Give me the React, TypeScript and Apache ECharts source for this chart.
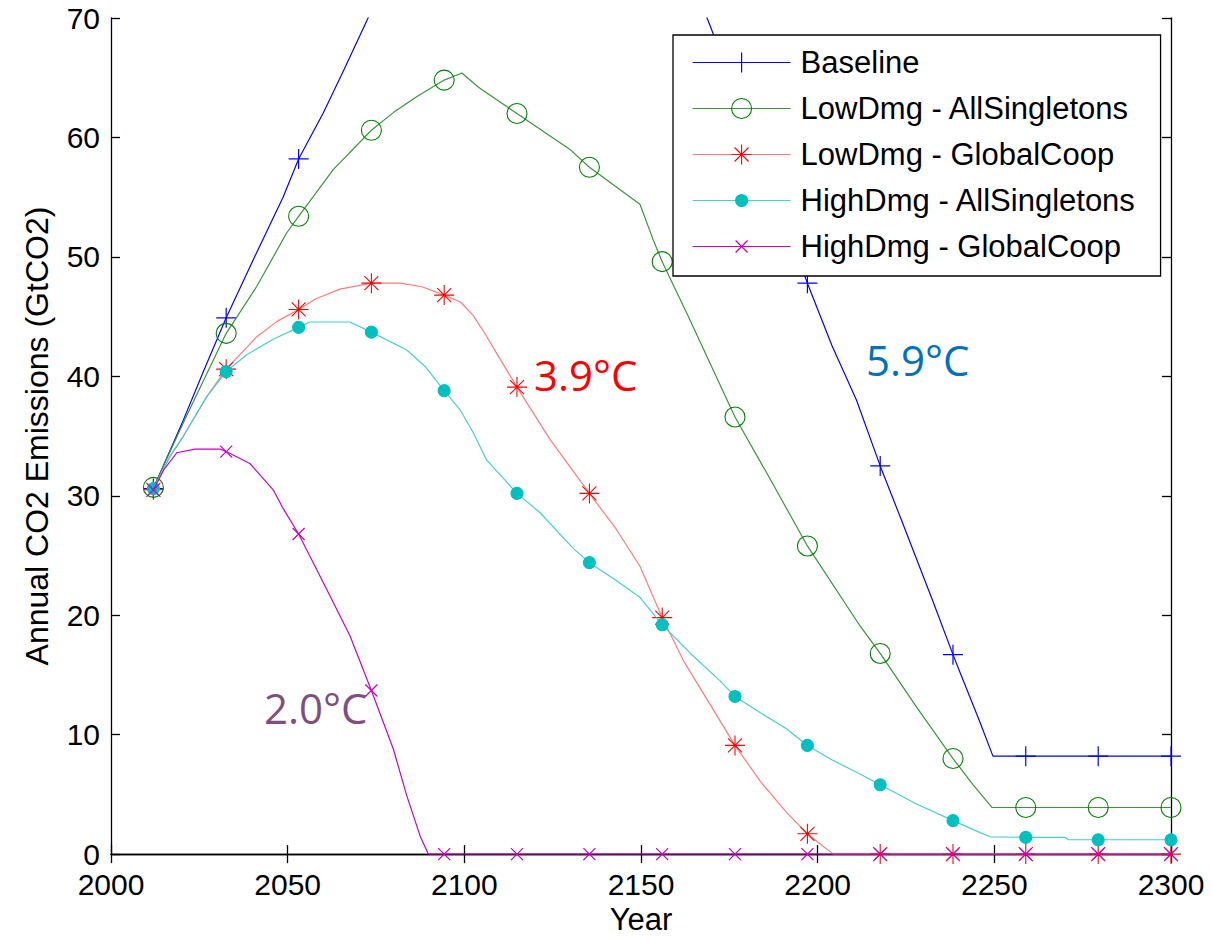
import React, { useEffect, useRef } from "react";
import * as echarts from "echarts";

// Years at which markers are drawn (shared by all curves)
const markerYears = [2012, 2032.6, 2053.1, 2073.7, 2094.3, 2114.9, 2135.4, 2156, 2176.6, 2197.1, 2217.7, 2238.3, 2258.9, 2279.4, 2300];

const seriesNames = [
  "Baseline",
  "LowDmg - AllSingletons",
  "LowDmg - GlobalCoop",
  "HighDmg - AllSingletons",
  "HighDmg - GlobalCoop",
];

const xTicks = [2000, 2050, 2100, 2150, 2200, 2250, 2300];
const yTicks = [0, 10, 20, 30, 40, 50, 60, 70];

const baseline: [number, number][] = [
  [2012, 30.6], [2020, 36.0], [2026, 40.3], [2032.6, 44.9], [2040, 49.6], [2048.7, 55.0],
  [2053.1, 58.2], [2060, 62.0], [2066, 65.7], [2073.7, 70.6], [2084, 76.8], [2094.3, 81.6],
  [2104, 85.2], [2114.9, 87.4], [2125, 87.8], [2135.4, 86.2], [2146, 82.6], [2156, 77.8],
  [2163, 73.5], [2168.7, 70.0], [2176.6, 64.0], [2186, 56.6], [2197.1, 47.8], [2204, 42.6],
  [2211, 38.0], [2217.7, 32.5], [2224.2, 27.6], [2232.7, 21.1], [2238.3, 16.7], [2240.3, 15.2],
  [2246, 11.0], [2249.6, 8.2], [2258.9, 8.2], [2279.4, 8.2], [2300, 8.2],
];

const lowDmgSingletons: [number, number][] = [
  [2012, 30.7], [2021.4, 36.7], [2032.6, 43.6], [2041.2, 47.5], [2049.7, 52.0], [2053.1, 53.4],
  [2062.9, 57.3], [2073.7, 60.6], [2080, 62.1], [2086.5, 63.4], [2094.3, 64.8], [2099.3, 65.4],
  [2104, 64.2], [2114.9, 62.0], [2129.9, 59.0], [2135.4, 57.5], [2149.7, 54.4], [2153.5, 51.4],
  [2156, 49.6], [2163.4, 45.0], [2176.6, 36.6], [2185.6, 31.9], [2197.1, 25.8], [2212, 19.1],
  [2217.7, 16.8], [2228, 12.3], [2238.3, 8.0], [2244, 5.8], [2249.4, 3.9], [2258.9, 3.9],
  [2279.4, 3.9], [2300, 3.9],
];

const lowDmgCoop: [number, number][] = [
  [2012, 30.5], [2016.7, 33.3], [2020.5, 35.0], [2027.1, 38.3], [2032.6, 40.6], [2041.2, 43.3],
  [2047, 44.6], [2053.1, 45.6], [2058, 46.5], [2064.8, 47.3], [2073.7, 47.8], [2081.8, 47.8],
  [2088, 47.5], [2094.3, 46.8], [2099, 46.2], [2102.5, 45.1], [2106, 43.5], [2109.2, 41.9],
  [2114.9, 39.1], [2124.3, 34.7], [2135.4, 30.2], [2143, 27.2], [2149.7, 24.1], [2156, 19.8],
  [2162, 16.2], [2168.6, 13.0], [2176.6, 9.1], [2184, 6.0], [2191.2, 3.5], [2197.1, 1.7],
  [2204.4, 0], [2217.7, 0], [2238.3, 0], [2258.9, 0], [2279.4, 0], [2300, 0],
];

const highDmgSingletons: [number, number][] = [
  [2012, 30.6], [2016.7, 33.3], [2020.5, 35.0], [2027.1, 38.3], [2032.6, 40.4], [2038.4, 41.8],
  [2045.9, 43.1], [2053.1, 44.1], [2056.3, 44.55], [2067.6, 44.55], [2073.7, 43.7], [2083.7, 42.2],
  [2089, 40.8], [2094.3, 38.8], [2098.8, 37.2], [2102.5, 35.3], [2106.3, 33.0], [2114.9, 30.2],
  [2121.4, 28.6], [2130.8, 25.6], [2135.4, 24.4], [2143, 22.9], [2149.7, 21.5], [2156, 19.2],
  [2164, 16.8], [2172.4, 14.5], [2176.6, 13.2], [2184, 11.8], [2191.2, 10.5], [2197.1, 9.1],
  [2204, 7.9], [2212, 6.7], [2217.7, 5.8], [2228, 4.2], [2238.3, 2.8], [2246, 1.8],
  [2248.8, 1.45], [2258.9, 1.4], [2270, 1.4], [2271, 1.2], [2279.4, 1.2], [2300, 1.2],
];

const highDmgCoop: [number, number][] = [
  [2012, 30.5], [2015, 32.2], [2018.6, 33.6], [2023.8, 33.9], [2031, 33.9], [2032.6, 33.7],
  [2039.3, 32.7], [2045.9, 30.5], [2048.8, 28.9], [2053.1, 26.8], [2061, 22.2], [2067.6, 18.3],
  [2073.7, 13.7], [2079.9, 8.8], [2083.7, 4.9], [2087.5, 1.5], [2089.8, 0], [2094.3, 0],
  [2114.9, 0], [2135.4, 0], [2156, 0], [2176.6, 0], [2197.1, 0], [2217.7, 0], [2238.3, 0],
  [2258.9, 0], [2279.4, 0], [2300, 0],
];

const annotations = [
  { text: "3.9°C", color: "#FF0000", x: 534, y: 374 },
  { text: "5.9°C", color: "#0070C0", x: 866, y: 359 },
  { text: "2.0°C", color: "#7F4F7F", x: 264, y: 707 },
];

// Marker symbols drawn in a 20x20 frame (extra moves keep the frame size)
const SYM_PLUS = "path://M0 10 L20 10 M10 0 L10 20";
const SYM_CIRCLE = "path://M0 10 A10 10 0 1 1 20 10 A10 10 0 1 1 0 10 Z";
const SYM_STAR = "path://M0 10 L20 10 M10 0 L10 20 M3 3 L17 17 M3 17 L17 3";
const SYM_DOT = "path://M0 0 M20 20 M4 10 A6 6 0 1 1 16 10 A6 6 0 1 1 4 10 Z";
const SYM_X = "path://M0 0 M20 20 M4 4 L16 16 M4 16 L16 4";

const styles = [
  { symbol: SYM_PLUS, line: "#0000FF", marker: "#0000FF", fill: "transparent", width: 1.2 },
  { symbol: SYM_CIRCLE, line: "#3A943A", marker: "#008000", fill: "transparent", width: 1.1 },
  { symbol: SYM_STAR, line: "#FF7A7A", marker: "#FF0000", fill: "transparent", width: 1.1 },
  { symbol: SYM_DOT, line: "#45CFCF", marker: "#00BFBF", fill: "#00BFBF", width: 1.1 },
  { symbol: SYM_X, line: "#C800C8", marker: "#BF00BF", fill: "transparent", width: 1.2 },
];

const allData = [baseline, lowDmgSingletons, lowDmgCoop, highDmgSingletons, highDmgCoop];

const FONT = "'Liberation Sans', Arial, sans-serif";

function buildData(points: [number, number][]) {
  return points.map(([x, y]) =>
    markerYears.includes(x) ? { value: [x, y] } : { value: [x, y], symbol: "none" }
  );
}

export default function App() {
  const ref = useRef<HTMLDivElement>(null);

  useEffect(() => {
    if (!ref.current) return;
    const chart = echarts.init(ref.current, null, { renderer: "svg" });

    const axisLine = { show: true, lineStyle: { color: "#000", width: 1.3 } };
    const tick = { show: true, inside: true, length: 9, lineStyle: { color: "#000", width: 1.3 } };

    const option: any = {
      animation: false,
      backgroundColor: "#fff",
      grid: { left: 111, top: 18, right: 40, bottom: 85, containLabel: false },
      xAxis: [
        {
          type: "value", min: xTicks[0], max: xTicks[xTicks.length - 1], interval: 50,
          position: "bottom",
          axisLine, axisTick: tick, splitLine: { show: false },
          axisLabel: {
            fontFamily: FONT, fontSize: 30, color: "#000", margin: 18, lineHeight: 24,
            formatter: (v: number) => String(v),
          },
          name: "Year", nameLocation: "middle", nameGap: 49,
          nameTextStyle: { fontFamily: FONT, fontSize: 31, color: "#000" },
        },
        {
          type: "value", min: xTicks[0], max: xTicks[xTicks.length - 1], interval: 50,
          position: "top",
          axisLine, axisTick: tick, splitLine: { show: false }, axisLabel: { show: false },
        },
      ],
      yAxis: [
        {
          type: "value", min: yTicks[0], max: yTicks[yTicks.length - 1], interval: 10,
          position: "left",
          axisLine, axisTick: tick, splitLine: { show: false },
          axisLabel: {
            fontFamily: FONT, fontSize: 30, color: "#000", margin: 11, lineHeight: 24,
            padding: [0, 0, 2, 0],
          },
          name: "Annual CO2 Emissions (GtCO2)", nameLocation: "middle", nameGap: 58,
          nameTextStyle: { fontFamily: FONT, fontSize: 32, color: "#000" },
        },
        {
          type: "value", min: yTicks[0], max: yTicks[yTicks.length - 1], interval: 10,
          position: "right",
          axisLine, axisTick: tick, splitLine: { show: false }, axisLabel: { show: false },
        },
      ],
      legend: {
        orient: "vertical",
        left: 673,
        top: 35,
        padding: [12, 24, 14, 19],
        itemGap: 15,
        itemWidth: 98,
        itemHeight: 25,
        backgroundColor: "#fff",
        borderColor: "#000",
        borderWidth: 1.3,
        selectedMode: false,
        textStyle: { fontFamily: FONT, fontSize: 31, color: "#000", padding: [0, 0, 0, 5] },
        data: seriesNames.map((name, i) => ({
          name,
          itemStyle: {
            color: styles[i].fill,
            borderColor: styles[i].marker,
            borderWidth: styles[i].width,
          },
          lineStyle: { color: styles[i].line, width: 1.2 },
        })),
      },
      series: seriesNames.map((name, i) => ({
        name,
        type: "line",
        xAxisIndex: 0,
        yAxisIndex: 0,
        data: buildData(allData[i]),
        symbol: styles[i].symbol,
        symbolSize: 20,
        showSymbol: true,
        smooth: false,
        clip: true,
        silent: true,
        emphasis: { disabled: true },
        lineStyle: { color: styles[i].line, width: 1.2 },
        itemStyle: { color: styles[i].fill, borderColor: styles[i].marker, borderWidth: styles[i].width },
        z: 2 + i * 0.1,
      })),
      graphic: annotations.map((a) => ({
        type: "text",
        x: a.x,
        y: a.y,
        z: 10,
        style: {
          text: a.text,
          fill: a.color,
          fontFamily: "'Open Sans', 'Noto Sans', sans-serif",
          fontSize: 42,
          align: "left",
          verticalAlign: "middle",
        },
      })),
    };

    chart.setOption(option);
    return () => chart.dispose();
  }, []);

  return (
    <div
      ref={ref}
      style={{ position: "absolute", left: 0, top: 0, width: 1211, height: 940, background: "#fff" }}
    />
  );
}
